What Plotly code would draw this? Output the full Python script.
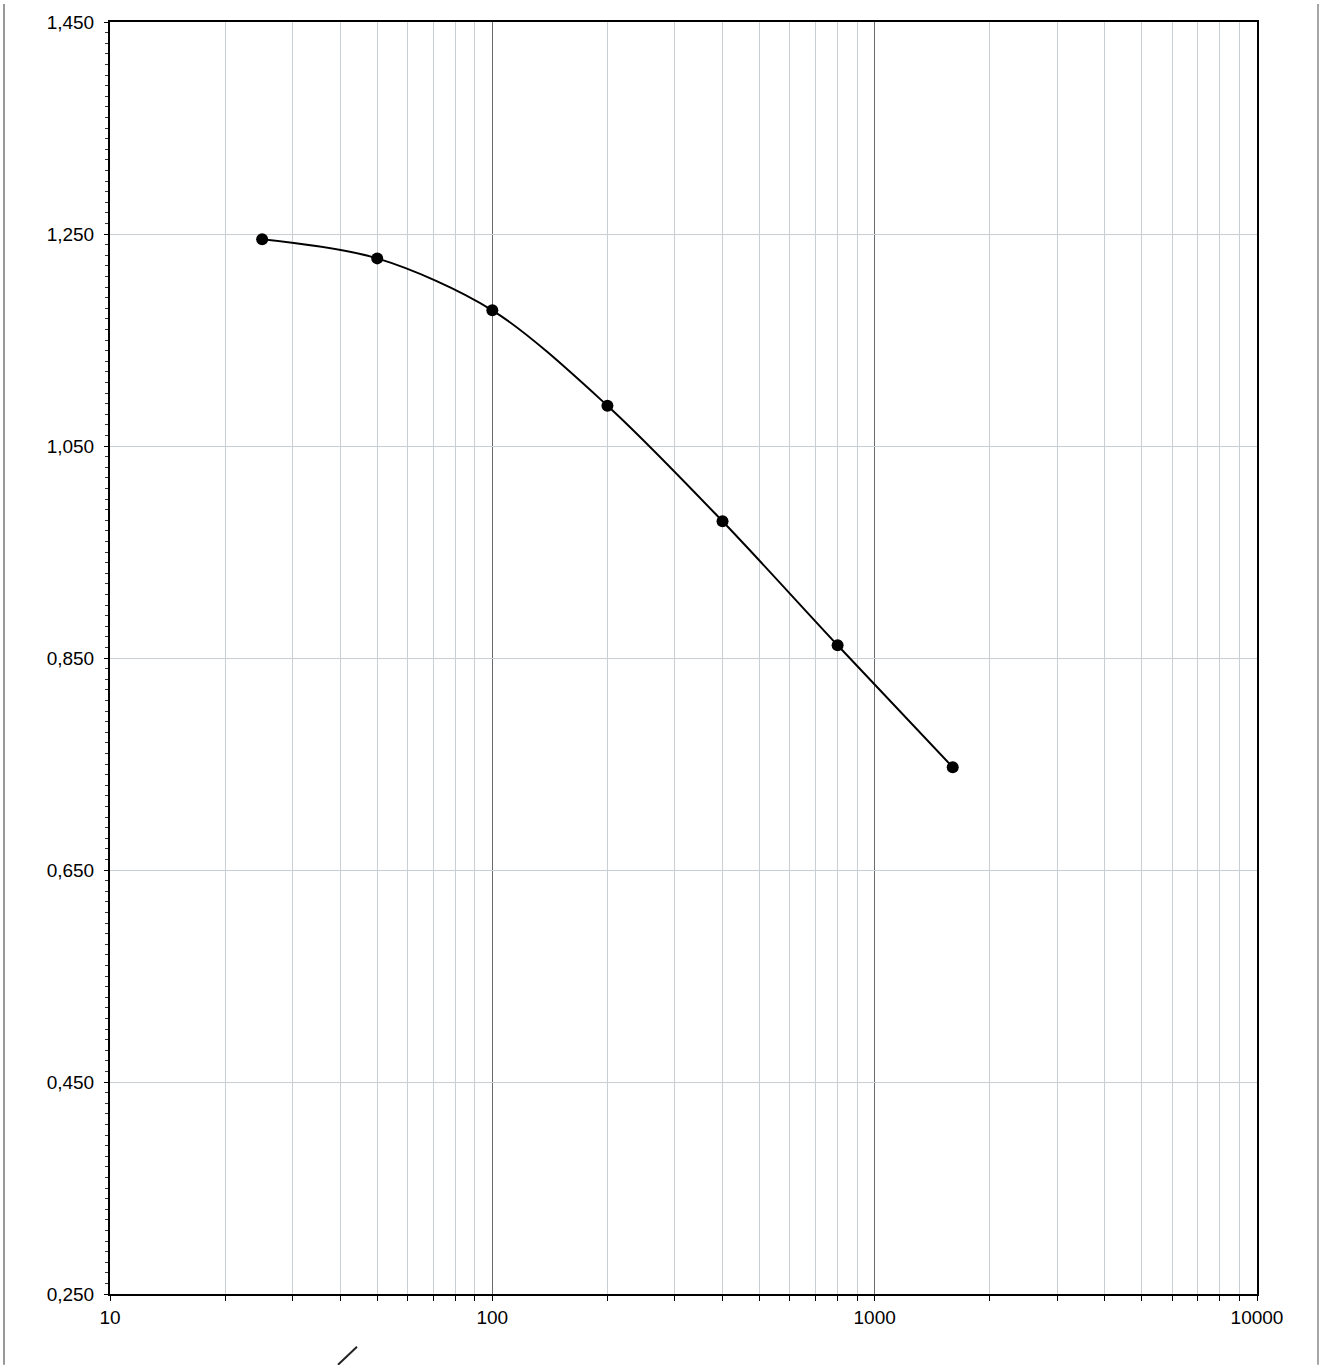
import plotly.graph_objects as go

# Measured series
x_values = [25, 50, 100, 200, 400, 800, 1600]
y_values = [1.245, 1.227, 1.178, 1.088, 0.979, 0.862, 0.747]

# Axis ticks
x_major = [10, 100, 1000, 10000]
x_major_text = ["10", "100", "1000", "10000"]
x_minor = [m * d for d in (10, 100, 1000) for m in range(2, 10)]
y_major = [0.25, 0.45, 0.65, 0.85, 1.05, 1.25, 1.45]
y_major_text = ["0,250", "0,450", "0,650", "0,850", "1,050", "1,250", "1,450"]

W, H = 1320, 1365
L, R, T, B = 110, 63, 18, 71
pw, ph = W - L - R, H - T - B


def px(x):
    return (x - L) / pw


def py(y):
    return (H - B - y) / ph


fig = go.Figure()
fig.add_trace(go.Scatter(
    x=x_values, y=y_values,
    mode="lines+markers",
    line=dict(color="black", width=2, shape="spline", smoothing=0.9),
    marker=dict(color="black", size=12),
    showlegend=False,
))

tick_font = dict(family="Liberation Sans, Arial, sans-serif", size=19, color="black")

fig.update_xaxes(
    type="log", range=[1, 4],
    tickmode="array", tickvals=x_major, ticktext=x_major_text,
    ticks="outside", ticklen=5, tickwidth=1, tickcolor="black",
    showgrid=True, gridcolor="#6a6a6a", gridwidth=1,
    minor=dict(tickmode="array", tickvals=x_minor, ticks="outside",
               ticklen=5, tickwidth=1, tickcolor="black",
               showgrid=True, gridcolor="#c9ced3", gridwidth=1),
    showline=True, linecolor="black", linewidth=2, mirror=True,
    zeroline=False, tickfont=tick_font,
)
fig.update_yaxes(
    range=[0.25, 1.45],
    tickmode="array", tickvals=y_major, ticktext=y_major_text,
    ticks="outside", ticklen=4, tickwidth=1, tickcolor="black",
    ticklabelstandoff=6,
    showgrid=True, gridcolor="#c9ced3", gridwidth=1,
    minor=dict(dtick=0.01, tick0=0.25, ticks="outside", ticklen=3,
               tickwidth=1, tickcolor="#333", showgrid=False),
    showline=True, linecolor="black", linewidth=2, mirror=True,
    zeroline=False, tickfont=tick_font,
)

# Page edges and a small pen stroke below the axis
shapes = [
    dict(type="line", xref="paper", yref="paper",
         x0=px(4), x1=px(4), y0=py(0), y1=py(H),
         line=dict(color="#777", width=1.5)),
    dict(type="line", xref="paper", yref="paper",
         x0=px(1318), x1=px(1318), y0=py(0), y1=py(H),
         line=dict(color="#888", width=1.5)),
    dict(type="line", xref="paper", yref="paper",
         x0=px(338), x1=px(357), y0=py(1365), y1=py(1347),
         line=dict(color="#222", width=2)),
]

fig.update_layout(
    width=W, height=H,
    margin=dict(l=L, r=R, t=T, b=B),
    paper_bgcolor="white", plot_bgcolor="white",
    separators=",.",
    shapes=shapes,
)

fig.write_html("out.html")
